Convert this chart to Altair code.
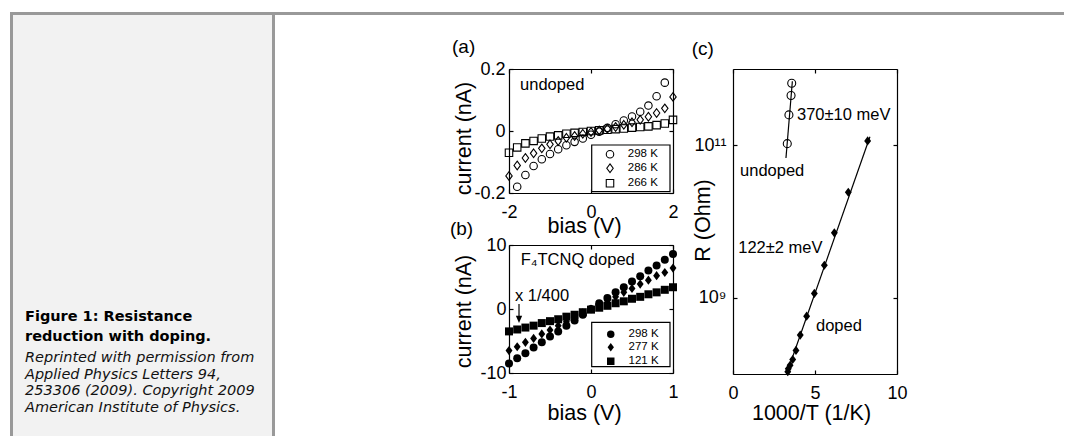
import altair as alt
import pandas as pd

W, H = 1056, 428
FONT = "Liberation Sans"

# ---------------- data ----------------
# (a) undoped: current (nA) vs bias (V)
bias_a_298 = [-1.8, -1.6, -1.4, -1.2, -1.0, -0.8, -0.6, -0.4, -0.2, 0.0,
              0.2, 0.4, 0.6, 0.8, 1.0, 1.2, 1.4, 1.6, 1.8]
cur_a_298 = [-0.180, -0.142, -0.113, -0.091, -0.074, -0.059, -0.046, -0.035, -0.024, -0.012,
             -0.002, 0.010, 0.022, 0.034, 0.047, 0.062, 0.082, 0.112, 0.156]
bias_a = [-2.0, -1.8, -1.6, -1.4, -1.2, -1.0, -0.8, -0.6, -0.4, -0.2, 0.0,
          0.2, 0.4, 0.6, 0.8, 1.0, 1.2, 1.4, 1.6, 1.8, 2.0]
cur_a_286 = [-0.145, -0.111, -0.087, -0.072, -0.056, -0.043, -0.032, -0.022, -0.016, -0.009, -0.003,
             0.002, 0.007, 0.013, 0.020, 0.028, 0.036, 0.046, 0.058, 0.073, 0.110]
cur_a_266 = [-0.070, -0.053, -0.040, -0.032, -0.024, -0.018, -0.014, -0.009, -0.006, -0.003, 0.000,
             0.002, 0.004, 0.006, 0.008, 0.011, 0.013, 0.015, 0.019, 0.024, 0.036]
series_a = ["298 K", "286 K", "266 K"]

# (b) F4TCNQ doped: current (nA) vs bias (V)
bias_b = [-1.0, -0.9, -0.8, -0.7, -0.6, -0.5, -0.4, -0.3, -0.2, -0.1, 0.0,
          0.1, 0.2, 0.3, 0.4, 0.5, 0.6, 0.7, 0.8, 0.9, 1.0]
cur_b_298 = [-8.5, -7.7, -6.9, -6.0, -5.2, -4.3, -3.5, -2.6, -1.8, -0.9, 0.0,
             0.9, 1.7, 2.6, 3.4, 4.3, 5.1, 6.0, 6.8, 7.7, 8.6]
cur_b_277 = [-6.5, -5.9, -5.2, -4.6, -3.9, -3.3, -2.6, -2.0, -1.3, -0.6, 0.0,
             0.6, 1.3, 1.9, 2.6, 3.2, 3.9, 4.5, 5.2, 5.7, 6.4]
cur_b_121 = [-3.5, -3.2, -2.9, -2.6, -2.2, -1.9, -1.6, -1.2, -0.9, -0.5, -0.1,
             0.2, 0.5, 0.9, 1.2, 1.6, 1.9, 2.3, 2.6, 3.0, 3.4]
series_b = ["298 K", "277 K", "121 K"]

# (c) R (Ohm) vs 1000/T (1/K)
invT_undoped = [3.31, 3.41, 3.54, 3.58]
R_undoped = [1.05e11, 2.5e11, 4.5e11, 6.5e11]
invT_doped = [3.34, 3.37, 3.48, 3.64, 3.84, 4.10, 4.49, 4.96, 5.57, 6.18, 7.03, 8.21]
R_doped = [1.07e8, 1.17e8, 1.30e8, 1.55e8, 2.04e8, 3.24e8, 5.74e8, 1.14e9, 2.67e9,
           7.10e9, 2.42e10, 1.14e11]
fit_undoped_x = [3.23, 3.62]
fit_undoped_R = [6.8e10, 6.9e11]
fit_doped_x = [3.27, 8.35]
fit_doped_R = [1.0e8, 1.29e11]

# ---------------- geometry (plot areas, chart px) ----------------
PAN = {
    "a": {"xd": [-2, 2], "xr": [501, 665], "yd": [-0.2, 0.2], "yr": [185, 61], "yt": "linear"},
    "b": {"xd": [-1, 1], "xr": [501, 665], "yd": [-10, 10], "yr": [365, 237], "yt": "linear"},
    "c": {"xd": [0, 10], "xr": [725, 889], "yd": [1e8, 1e12], "yr": [366, 61], "yt": "log"},
}
DIAMOND = "M0,-1.15L0.86,0L0,1.15L-0.86,0Z"


def xscale(p):
    return alt.Scale(domain=PAN[p]["xd"], range=PAN[p]["xr"], nice=False, zero=False)


def yscale(p):
    if PAN[p]["yt"] == "log":
        return alt.Scale(type="log", domain=PAN[p]["yd"], range=PAN[p]["yr"], nice=False)
    return alt.Scale(domain=PAN[p]["yd"], range=PAN[p]["yr"], nice=False, zero=False)


def X(p, field="x", axis=None):
    return alt.X(f"{field}:Q", scale=xscale(p), axis=axis)


def Y(p, field="y", axis=None):
    return alt.Y(f"{field}:Q", scale=yscale(p), axis=axis)


AX = dict(grid=False, labelFont=FONT, labelFontSize=18, labelColor="black",
          labelFlush=False, labelOverlap=False, titleFont=FONT, titleFontSize=21.5,
          titleFontWeight="normal", titleColor="black", domainColor="black",
          domainWidth=1.2, tickColor="black", tickWidth=1.2)


def frame_layers(p, df, xvals, yvals, xlab, ylab, xtitle, ytitle,
                 xtitle_xy, ytitle_xy, xpad, ypad):
    x0, x1 = PAN[p]["xr"]
    yb, yt = PAN[p]["yr"]
    main = alt.Chart(df).mark_point(opacity=0).encode(
        x=X(p, axis=alt.Axis(orient="bottom", offset=yb - H, values=xvals, ticks=False,
                             labelPadding=xpad, labelExpr=xlab, title=xtitle,
                             titleX=xtitle_xy[0], titleY=xtitle_xy[1], titleAngle=0,
                             titleAlign="center", titleBaseline="middle", **AX)),
        y=Y(p, axis=alt.Axis(orient="left", offset=-x0, values=yvals, ticks=False,
                             labelPadding=ypad, labelExpr=ylab, title=ytitle,
                             titleX=ytitle_xy[0], titleY=ytitle_xy[1], titleAngle=270,
                             titleAlign="center", titleBaseline="middle", **AX)),
    )
    tick = dict(labels=False, ticks=True, tickSize=4, title=None, **AX)
    t1 = alt.Chart(df).mark_point(opacity=0).encode(
        x=X(p, axis=alt.Axis(orient="top", offset=-yb, values=xvals, domain=False, **tick)),
        y=Y(p, axis=alt.Axis(orient="right", offset=x0 - W, values=yvals, domain=False, **tick)),
    )
    t2 = alt.Chart(df).mark_point(opacity=0).encode(
        x=X(p, axis=alt.Axis(orient="bottom", offset=yt - H, values=xvals, domain=True, **tick)),
        y=Y(p, axis=alt.Axis(orient="left", offset=-x1, values=yvals, domain=True, **tick)),
    )
    return [main, t1, t2]


def text_layer(p, xs, ys, texts, size=16.5, align="left"):
    df = pd.DataFrame({"x": xs, "y": ys, "t": texts})
    return alt.Chart(df).mark_text(align=align, baseline="middle", font=FONT,
                                   fontSize=size, color="black").encode(
        x=X(p), y=Y(p), text="t:N")


def legend(x, y, fill, rowpad):
    return alt.Legend(orient="none", legendX=x, legendY=y, title=None, padding=0,
                      labelFont=FONT, labelFontSize=11.5, labelColor="black",
                      labelOffset=12, symbolOffset=0, rowPadding=rowpad,
                      symbolSize=56, symbolStrokeWidth=1.1, symbolStrokeColor="black",
                      symbolFillColor=fill)


# ---------------- data frames ----------------
df_a = pd.concat([
    pd.DataFrame({"x": bias_a_298, "y": cur_a_298, "s": series_a[0]}),
    pd.DataFrame({"x": bias_a, "y": cur_a_286, "s": series_a[1]}),
    pd.DataFrame({"x": bias_a, "y": cur_a_266, "s": series_a[2]}),
], ignore_index=True)
df_b = pd.concat([
    pd.DataFrame({"x": bias_b, "y": cur_b_298, "s": series_b[0]}),
    pd.DataFrame({"x": bias_b, "y": cur_b_277, "s": series_b[1]}),
    pd.DataFrame({"x": bias_b, "y": cur_b_121, "s": series_b[2]}),
], ignore_index=True)
df_cu = pd.DataFrame({"x": invT_undoped, "y": R_undoped})
df_cd = pd.DataFrame({"x": invT_doped, "y": R_doped})
df_fit = pd.concat([
    pd.DataFrame({"x": fit_undoped_x, "y": fit_undoped_R, "l": "undoped"}),
    pd.DataFrame({"x": fit_doped_x, "y": fit_doped_R, "l": "doped"}),
], ignore_index=True)

one = pd.DataFrame({"d": [0]})

# ---------------- decorations (page frame & caption) ----------------
GRAY = "#999999"
deco = [
    alt.Chart(one).mark_rect(color="#f2f2f2").encode(
        x=alt.value(5), x2=alt.value(264), y=alt.value(7), y2=alt.value(H)),
    alt.Chart(one).mark_rect(color=GRAY).encode(
        x=alt.value(2), x2=alt.value(W), y=alt.value(4), y2=alt.value(7)),
    alt.Chart(one).mark_rect(color=GRAY).encode(
        x=alt.value(2), x2=alt.value(5), y=alt.value(4), y2=alt.value(H)),
    alt.Chart(one).mark_rect(color=GRAY).encode(
        x=alt.value(264), x2=alt.value(267), y=alt.value(4), y2=alt.value(H)),
    alt.Chart(one).mark_text(align="left", baseline="alphabetic", font="DejaVu Sans",
                             fontSize=14.5, fontWeight="bold", lineHeight=20,
                             color="black").encode(
        x=alt.value(17), y=alt.value(313),
        text=alt.value(["Figure 1: Resistance", "reduction with doping."])),
    alt.Chart(one).mark_text(align="left", baseline="alphabetic", font="DejaVu Sans",
                             fontSize=14.5, fontStyle="italic", lineHeight=16.7,
                             color="#111111").encode(
        x=alt.value(17), y=alt.value(354),
        text=alt.value(["Reprinted with permission from", "Applied Physics Letters 94,",
                        "253306 (2009). Copyright 2009", "American Institute of Physics."])),
]

# ---------------- panels ----------------
num = "toString(datum.value)"
frames = []
frames += frame_layers("a", df_a, [-2, 0, 2], [-0.2, 0, 0.2], num, num,
                       "bias (V)", "current (nA)", (576, 33), (-45, 130), 10, 4)
frames += frame_layers("b", df_b, [-1, 0, 1], [-10, 0, 10], num, num,
                       "bias (V)", "current (nA)", (576, 40), (-45, 303), 10, 3)
frames += frame_layers("c", df_cu, [0, 5, 10], [1e9, 1e11], num,
                       "datum.value < 1e10 ? '10\u2079' : '10\u00b9\u00b9'",
                       "1000/T (1/K)", "R (Ohm)", (803, 39), (-30, 212), 10, 7)

pts_a = alt.Chart(df_a).mark_point(filled=False, size=56, strokeWidth=1.1, color="black",
                                   opacity=1).encode(
    x=X("a"), y=Y("a"),
    shape=alt.Shape("s:N", scale=alt.Scale(domain=series_a, range=["circle", DIAMOND, "square"]),
                    legend=legend(596.25, 140.5, "transparent", 1)))
box_a = alt.Chart(one).mark_rect(fill="white", stroke="black", strokeWidth=1.2).encode(
    x=alt.value(583.7), x2=alt.value(662), y=alt.value(137), y2=alt.value(183.7))

pts_b = alt.Chart(df_b).mark_point(filled=True, size=64, color="black", opacity=1).encode(
    x=X("b"), y=Y("b"),
    shape=alt.Shape("s:N", scale=alt.Scale(domain=series_b, range=["circle", DIAMOND, "square"]),
                    legend=legend(597.0, 320.5, "black", 0)))
box_b = alt.Chart(one).mark_rect(fill="white", stroke="black", strokeWidth=1.2).encode(
    x=alt.value(583.7), x2=alt.value(662), y=alt.value(314.3), y2=alt.value(358.7))

arrow_df = pd.DataFrame({"x": [-0.878, -0.878], "y": [0.8, -1.4]})
arrow_line = alt.Chart(arrow_df).mark_line(color="black", strokeWidth=1.2).encode(
    x=X("b"), y=Y("b"))
arrow_head = alt.Chart(pd.DataFrame({"x": [-0.878], "y": [-1.6]})).mark_point(
    shape="M-0.9,-1L0.9,-1L0,1.1Z", filled=True, size=49, color="black", opacity=1).encode(
    x=X("b"), y=Y("b"))

fit_c = alt.Chart(df_fit).mark_line(color="black", strokeWidth=1.2).encode(
    x=X("c"), y=Y("c"), detail="l:N")
pts_cu = alt.Chart(df_cu).mark_point(shape="circle", filled=False, size=64, strokeWidth=1.1,
                                     color="black", opacity=1).encode(x=X("c"), y=Y("c"))
pts_cd = alt.Chart(df_cd).mark_point(shape=DIAMOND, filled=True, size=64, color="black",
                                     opacity=1).encode(x=X("c"), y=Y("c"))

texts = [
    text_layer("a", [-3.39], [0.271], ["(a)"], size=19),
    text_layer("a", [-1.73], [0.148], ["undoped"]),
    text_layer("b", [-1.72], [12.49], ["(b)"], size=19),
    text_layer("b", [-0.857], [7.67], ["F\u2084TCNQ doped"]),
    text_layer("b", [-0.927], [1.98], ["x 1/400"]),
    text_layer("c", [-2.52], [1.83e12], ["(c)"], size=19),
    text_layer("c", [3.90, 0.43, 0.32, 5.06], [2.49e11, 4.59e10, 4.56e9, 4.27e8],
               ["370\u00b110 meV", "undoped", "122\u00b12 meV", "doped"]),
]

layers = deco + frames + [pts_a, box_a, pts_b, box_b, arrow_line, arrow_head,
                          fit_c, pts_cu, pts_cd] + texts

chart = alt.layer(*layers).resolve_scale(
    x="independent", y="independent", shape="independent"
).resolve_axis(x="independent", y="independent").resolve_legend(
    shape="independent"
).properties(
    width=W, height=H, padding=0, autosize=alt.AutoSizeParams(type="none")
).configure_view(stroke=None)

chart.save("out.html", embed_options={"renderer": "svg", "actions": False})
